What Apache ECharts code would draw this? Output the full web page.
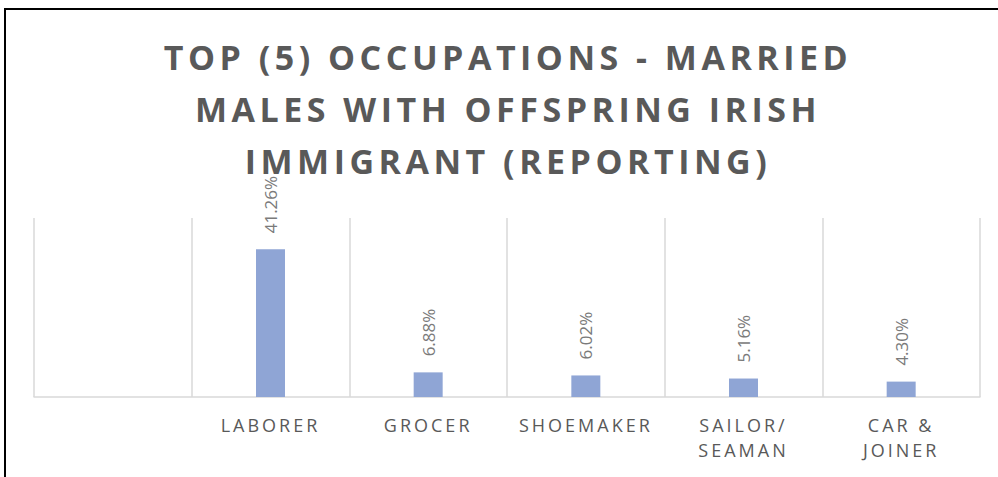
<!DOCTYPE html>
<html>
<head>
<meta charset="utf-8">
<script src="https://cdn.jsdelivr.net/npm/echarts@6/dist/echarts.min.js"></script>
<style>
    html, body { margin: 0; padding: 0; background: #fff; }
    #chart { width: 998px; height: 477px; }
    /* Excel-style letter spacing for title and category labels */
    #chart text[style*="34px"] { letter-spacing: 4.5px; }
    #chart text[style*="18px"] { letter-spacing: 3px; }
</style>
</head>
<body>
<div id="chart"></div>
<script>
    var titleLines = ['TOP (5) OCCUPATIONS - MARRIED', 'MALES WITH OFFSPRING IRISH', 'IMMIGRANT (REPORTING)'];
    var categories = ['', 'LABORER', 'GROCER', 'SHOEMAKER', 'SAILOR/\nSEAMAN', 'CAR &\nJOINER'];
    var shares = [null, 41.26, 6.88, 6.02, 5.16, 4.30];

    var chart = echarts.init(document.getElementById('chart'), null, { renderer: 'svg' });

    var option = {
        animation: false,
        title: {
            text: titleLines.join('\n'),
            left: 508,
            textAlign: 'center',
            top: 31,
            padding: 0,
            textStyle: {
                fontFamily: 'Open Sans',
                fontWeight: 'bold',
                fontSize: 34,
                lineHeight: 52,
                color: '#595959'
            }
        },
        grid: {
            left: 34,
            right: 18,
            top: 218,
            bottom: 80
        },
        xAxis: {
            type: 'category',
            data: categories,
            axisLine: { lineStyle: { color: '#d9d9d9', width: 1.5 } },
            axisTick: { show: false },
            splitLine: { show: true, lineStyle: { color: '#d9d9d9', width: 1.5 } },
            axisLabel: {
                interval: 0,
                margin: 15,
                fontFamily: 'Open Sans',
                fontSize: 18,
                lineHeight: 25,
                color: '#595959'
            }
        },
        yAxis: {
            type: 'value',
            min: 0,
            max: 50,
            show: false,
            splitLine: { show: false }
        },
        series: [{
            type: 'bar',
            data: shares,
            barWidth: 29,
            itemStyle: { color: '#8fa5d5' },
            label: {
                show: true,
                position: 'top',
                distance: 16,
                rotate: 90,
                align: 'left',
                verticalAlign: 'middle',
                fontFamily: 'Open Sans',
                fontSize: 17,
                color: '#7a7a7a',
                formatter: function(p) {
                    return p.value.toFixed(2) + '%';
                }
            }
        }],
        graphic: [{
            type: 'polyline',
            shape: { points: [[5, 477], [5, 9], [998, 9]] },
            style: { stroke: '#000', lineWidth: 2, fill: null }
        }]
    };

    chart.setOption(option);
</script>
</body>
</html>
